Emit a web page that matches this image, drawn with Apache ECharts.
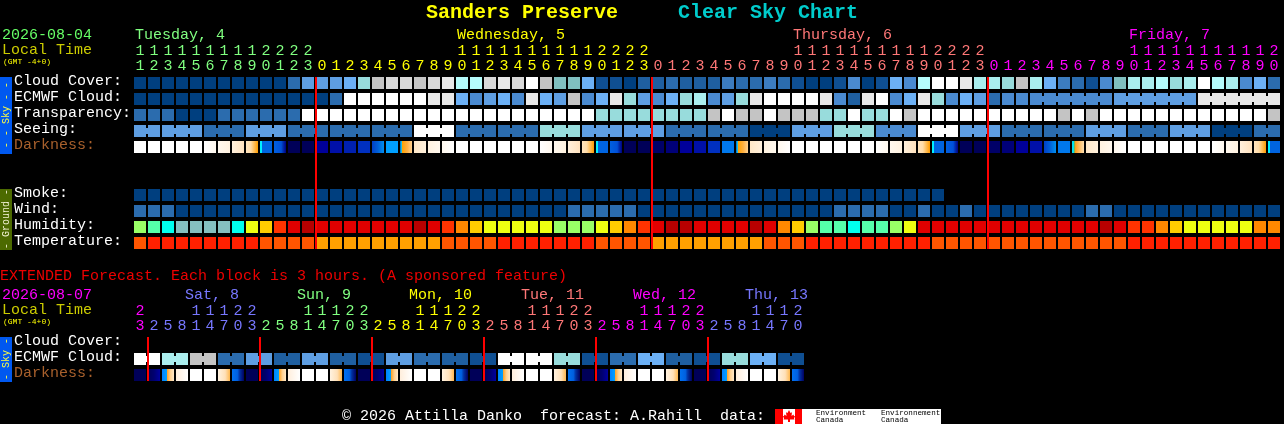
<!DOCTYPE html>
<html>
<head>
<meta charset="utf-8">
<style>html,body{margin:0;padding:0;background:#000;overflow:hidden}#c{width:1284px;height:424px}</style>
<script src="https://cdn.jsdelivr.net/npm/echarts@6/dist/echarts.min.js"></script>
</head>
<body>
<div id="c"></div>
<script>
// ---------- tick labels ----------
const topOnes = ("1234567890123"+"012345678901234567890123"+"012345678901234567890123"+"012345678901234567890").split('');
const topTens = ("1111111112222"+"          11111111112222"+"          11111111112222"+"          11111111112").split('').map(s=>s===' '?'':s);
const topDayStarts = [0,13,37,61];
const topDayNames = ["Tuesday, 4","Wednesday, 5","Thursday, 6","Friday, 7"];
const topDayLabelCols = [0,23,47,71];
const extOnes = ("3"+"25814703"+"25814703"+"25814703"+"25814703"+"25814703"+"2581470").split('');
const extTens = ("2"+"   11122"+"   11122"+"   11122"+"   11122"+"   11122"+"   1112").split('').map(s=>s===' '?'':s);
const extDayStarts = [0,1,9,17,25,33,41];
const extDayNames = ["Sat, 8","Sun, 9","Mon, 10","Tue, 11","Wed, 12","Thu, 13"];
const extDayLabelCols = [4,12,20,28,36,44];
const extLineCols = [1,9,17,25,33,41];
const topLineCols = [13,37,61];
const topRowNames = ["Cloud Cover:","ECMWF Cloud:","Transparency:","Seeing:","Darkness:","","","Smoke:","Wind:","Humidity:","Temperature:"];
const extRowNames = ["Cloud Cover:","ECMWF Cloud:","Darkness:"];

// ---------- series values (palette levels) ----------
const cloudCover = [0,0,0,0,0,0,0,0,0,0,0,3,6,6,6,7,9,12,13,13,12,13,14,11,11,13,14,13,15,12,8,8,7,1,1,0,2,2,3,2,2,2,4,3,3,4,3,1,0,0,1,5,0,1,7,5,11,15,15,14,10,10,9,12,10,7,4,3,1,5,8,10,10,11,9,10,15,11,10,5,7,3];
const ecmwfCloud = [0,0,0,0,0,0,0,0,0,0,0,0,0,0,3,15,15,15,15,15,15,14,14,7,5,6,7,5,14,7,6,12,5,7,14,9,6,5,7,9,10,5,6,9,14,15,15,15,15,14,5,2,14,15,5,7,14,9,5,7,6,3,5,5,5,5,5,5,5,5,6,6,6,6,6,6,14,14,14,14,14,14];
const transparency = [3,3,3,0,0,0,3,3,3,3,3,3,15,15,15,15,15,15,15,15,15,15,15,15,15,15,15,15,15,15,15,15,15,9,9,9,9,9,9,9,9,12,15,12,12,15,12,12,12,9,9,15,9,9,15,12,15,15,15,15,15,15,15,15,15,15,12,15,12,15,15,15,15,15,15,15,15,15,15,15,15,12];
const seeing = [6,6,6,6,6,3,3,3,6,6,6,3,3,3,3,3,3,3,3,3,15,15,15,3,3,3,3,3,3,9,9,9,6,6,6,6,6,6,3,3,3,3,3,3,0,0,0,6,6,6,9,9,9,5,5,5,15,15,15,6,6,6,3,3,3,3,3,3,6,6,6,3,3,3,6,6,6,0,0,0,3,3];
const darkness = [0,0,0,0,0,1,2,3,4,5,6,7,7,10,11,12,13,14,15,16,17,20,21,0,0,0,0,0,0,1,2,3,4,5,6,7,7,8,9,10,11,13,18,16,17,20,21,0,0,0,0,0,0,1,2,3,4,5,6,7,7,8,9,10,11,14,18,19,17,20,21,0,0,0,0,0,0,1,2,3,4,5];
const smoke = [0,0,0,0,0,0,0,0,0,0,0,0,0,0,0,0,0,0,0,0,0,0,0,0,0,0,0,0,0,0,0,0,0,0,0,0,0,0,0,0,0,0,0,0,0,0,0,0,0,0,0,0,0,0,0,0,0,0];
const wind = [3,3,3,0,0,0,0,0,0,0,0,0,0,0,0,0,0,0,0,0,0,0,0,0,0,0,0,0,0,0,0,3,3,3,3,3,0,0,0,0,0,0,0,0,0,0,0,0,0,0,3,3,3,3,0,0,3,0,0,3,0,0,0,0,0,0,0,0,3,3,0,0,0,0,0,0,0,0,0,0,0,0];
const humidity = [3,4,5,6,6,6,6,5,2,1,9,8,7,8,8,8,8,8,8,8,7,8,9,10,1,2,2,2,2,2,3,3,3,2,1,10,9,8,7,7,8,8,8,8,7,8,10,1,3,4,4,5,4,4,3,2,8,8,8,8,8,8,8,8,8,8,8,8,8,7,8,9,9,10,1,2,2,2,2,2,10,10];
const temperature = [1,2,2,2,2,2,2,2,2,1,1,1,1,0,0,0,0,0,0,0,0,0,1,1,1,1,2,2,2,2,2,2,2,1,1,1,1,0,0,0,0,0,0,0,0,1,1,1,2,2,2,2,2,2,2,2,2,1,1,1,1,1,1,1,1,1,1,1,1,1,1,2,2,2,2,2,2,2,2,2,2,2];
const extEcmwf = [15,15,10,10,12,12,3,3,6,6,2,2,6,6,2,2,1,1,6,6,3,3,2,2,1,1,15,15,15,15,9,9,1,1,3,3,7,7,2,2,1,1,9,9,7,7,1,1];
const extDarkness = [7,22,23,24,0,0,25,26,7,22,23,24,0,0,25,26,7,22,23,24,0,0,25,26,7,22,23,24,0,0,25,26,7,22,23,24,0,0,25,26,7,22,23,24,0,0,25,26];

// ---------- palettes ----------
const font = "'Liberation Mono', monospace";
const skyPalette = ['#003F7F','#0F4F92','#1F5FA0','#2B6CAE','#3C7CBF','#4A8AD0','#5E9EE2','#6CB0F5','#80C0C0','#98DCDC','#AAEEEE','#B5FCFC','#C4C4C4','#D8D8D8','#E8E8E8','#FFFFFF'];
const humPalette = ['#85BFBF','#FFCC00','#EEFF11','#99FF66','#55FFAA','#00FFEE','#85BFBF','#B80000','#E00000','#FF3300','#FF8800'];
const tempPalette = ['#FFA000','#FF5500','#FF2000'];
const darkStops = {
 0:[[0,'#FFFFFF'],[1,'#FFFFFF']],
 1:[[0,'#FFFFFF'],[1,'#FFF8EE']],
 2:[[0,'#FFF8EE'],[1,'#FFF2E0']],
 3:[[0,'#FFF0DC'],[1,'#FFE2BE']],
 4:[[0,'#FFE4BE'],[0.4,'#FFDCA8'],[1,'#FF9C00']],
 5:[[0,'#00F0FF'],[0.17,'#00F0FF'],[0.17,'#0064E0'],[1,'#0064E0']],
 6:[[0,'#0060E0'],[0.6,'#0050D8'],[0.75,'#0030B0'],[1,'#000080']],
 7:[[0,'#000058'],[1,'#000058']],
 8:[[0,'#000068'],[1,'#000068']],
 9:[[0,'#000078'],[1,'#000078']],
 10:[[0,'#00009A'],[1,'#00009A']],
 11:[[0,'#0010A8'],[1,'#0010A8']],
 12:[[0,'#0020B0'],[1,'#0020B0']],
 13:[[0,'#0030C0'],[1,'#0030C0']],
 14:[[0,'#0040C8'],[0.5,'#0060D8'],[1,'#0090F0']],
 15:[[0,'#00A0FF'],[1,'#00A0FF']],
 16:[[0,'#0060C0'],[0.12,'#00C0FF'],[0.17,'#FFA000'],[0.6,'#FFB040'],[1,'#FFD090']],
 17:[[0,'#FFE8C8'],[1,'#FFF0DC']],
 18:[[0,'#0078EC'],[1,'#0078EC']],
 19:[[0,'#00E0F0'],[0.15,'#00E0F0'],[0.16,'#40C060'],[0.3,'#FFA020'],[1,'#FFE0B0']],
 20:[[0,'#FFF2E0'],[1,'#FFF8EE']],
 21:[[0,'#FFF8EE'],[1,'#FFFFFF']],
 22:[[0,'#000058'],[0.5,'#000070'],[1,'#0000A0']],
 23:[[0,'#0080FF'],[0.4,'#00A0FF'],[0.42,'#FFA020'],[0.7,'#FFD090'],[1,'#FFE8C8']],
 24:[[0,'#FFEEDC'],[1,'#FFFFFF']],
 25:[[0,'#FFF2E0'],[0.6,'#FFE0B8'],[1,'#FFB850']],
 26:[[0,'#0070F0'],[0.45,'#0060E0'],[0.65,'#0030A0'],[1,'#000060']]
};
const darkFill = l => new echarts.graphic.LinearGradient(0,0,1,0,darkStops[l].map(s=>({offset:s[0],color:s[1]})));
const skyFill = l => skyPalette[l];

// which blocks of a row are joined to the next one
const joinNone = () => false;
const joinSeeing = c => (c + 1) % 3 !== 2;
const joinEcmwf = c => c >= 64 && (c - 64 + 1) % 6 !== 0;
const joinPairs = c => c % 2 === 0;

const blockW = 12, blockH = 12, neckH = 6;
function blockSeries(gridIdx, xIdx, yIdx, row, values, fill, join) {
  return {
    type: 'custom', coordinateSystem: 'cartesian2d', xAxisIndex: xIdx, yAxisIndex: yIdx, clip: false, silent: true, z: 2,
    encode: {x: 0, y: 1},
    data: values.map((v, c) => [c, row, v]),
    renderItem(params, api) {
      const c = api.value(0), p = api.coord([c, api.value(1)]), l = api.value(2);
      const pitch = api.size([1, 0])[0];
      const col = fill(l);
      const kids = [{type:'rect', shape:{x:p[0]-blockW/2, y:p[1]-blockH/2, width:blockW, height:blockH}, style:{fill:col}}];
      if (join(c) && c < values.length - 1 && values[c+1] === l) {
        kids.push({type:'rect', shape:{x:p[0]+blockW/2, y:p[1]-neckH/2, width:pitch-blockW, height:neckH}, style:{fill:col}});
      }
      return {type:'group', children:kids};
    }
  };
}
function lineSeries(xIdx, yIdx, cols, lastRow) {
  return {
    type:'custom', coordinateSystem:'cartesian2d', xAxisIndex:xIdx, yAxisIndex:yIdx, clip:false, silent:true, z:5,
    encode:{x:0},
    data: cols.map(c=>[c,0]),
    renderItem(params, api){
      const a = api.coord([api.value(0),0]), b = api.coord([api.value(0),lastRow]);
      return {type:'rect', shape:{x:a[0]-7, y:a[1]-6, width:2, height:b[1]-a[1]+12}, style:{fill:'#FF0000'}};
    }
  };
}
function dayLabelSeries(xIdx, yIdx, cols, names, colors, shift, py) {
  return {
    type:'custom', coordinateSystem:'cartesian2d', xAxisIndex:xIdx, yAxisIndex:yIdx, clip:false, silent:true, z:5,
    encode:{x:0},
    data: cols.map(c=>[c,0]),
    renderItem(params, api){
      const a = api.coord([api.value(0),0]);
      return {type:'text', style:{x:a[0]+shift, y:py, text:names[params.dataIndex], fill:colors[params.dataIndex], font:"15px "+font, textAlign:'left', textVerticalAlign:'middle'}};
    }
  };
}

const G='#80FF80', Y='#FFFF00', S='#FF7777', M='#FF00FF', B='#7777FF';
const topDayColors=[G,Y,S,M];
const extDayColors=[M,B,G,Y,S,M,B];
function spanColor(starts, colors){ return (v,i)=>{ let k=0; for(let j=0;j<starts.length;j++) if(i>=starts[j]) k=j; return colors[k]; }; }
const topColor=spanColor(topDayStarts,topDayColors), extColor=spanColor(extDayStarts,extDayColors);

const cat = (data,gridIndex,color,offset,margin)=>({
  type:'category', gridIndex, position:'top', data, offset, boundaryGap:true,
  axisLine:{show:false}, axisTick:{show:false}, splitLine:{show:false},
  axisLabel:{show:true, interval:0, margin, color, fontFamily:font, fontSize:15, showMinLabel:true, showMaxLabel:true, hideOverlap:false}
});
const rowAxis=(data,gridIndex)=>({
  type:'category', gridIndex, data, inverse:true, boundaryGap:true,
  axisLine:{show:false}, axisTick:{show:false}, splitLine:{show:false},
  axisLabel:{show:true, interval:0, align:'left', margin:119, fontFamily:font, fontSize:15, verticalAlign:'bottom', lineHeight:4, showMinLabel:true, showMaxLabel:true, hideOverlap:false,
    color:(v)=> v==='Darkness:' ? '#A8602C' : '#FFFFFF'}
});

const txt=(text,x,y,fill,size)=>({type:'text',silent:true,z:10,x,y,style:{text,fill,font:size+'px '+font,textAlign:'left',textVerticalAlign:'middle'}});
const vtxt=(text,cx,cy,fill)=>({type:'text',silent:true,z:10,x:cx,y:cy,rotation:Math.PI/2,style:{text,fill,font:"10px "+font,textAlign:'center',textVerticalAlign:'middle'}});
const box=(x,y,w,h,fill)=>({type:'rect',silent:true,z:1,shape:{x,y,width:w,height:h},style:{fill}});

const option={
  backgroundColor:'#000000', animation:false,
  title:[
    {text:'Sanders Preserve',left:426,top:3,padding:0,textStyle:{color:'#FFFF00',fontFamily:font,fontWeight:'bold',fontSize:20}},
    {text:'Clear Sky Chart',left:678,top:3,padding:0,textStyle:{color:'#00CCCC',fontFamily:font,fontWeight:'bold',fontSize:20}}
  ],
  grid:[
    {left:133,top:75,width:1148,height:176,containLabel:false},
    {left:133,top:335,width:672,height:48,containLabel:false}
  ],
  xAxis:[
    cat(topOnes,0,topColor,0,1),
    cat(topTens,0,topColor,15,1),
    cat(extOnes,1,extColor,0,1),
    cat(extTens,1,extColor,15,1)
  ],
  yAxis:[rowAxis(topRowNames,0),rowAxis(extRowNames,1)],
  series:[
    blockSeries(0,0,0,0,cloudCover,skyFill,joinNone),
    blockSeries(0,0,0,1,ecmwfCloud,skyFill,joinEcmwf),
    blockSeries(0,0,0,2,transparency,skyFill,joinNone),
    blockSeries(0,0,0,3,seeing,skyFill,joinSeeing),
    blockSeries(0,0,0,4,darkness,darkFill,joinNone),
    blockSeries(0,0,0,7,smoke,skyFill,joinNone),
    blockSeries(0,0,0,8,wind,skyFill,joinNone),
    blockSeries(0,0,0,9,humidity,l=>humPalette[l],joinNone),
    blockSeries(0,0,0,10,temperature,l=>tempPalette[l],joinNone),
    blockSeries(1,2,1,1,extEcmwf,skyFill,joinPairs),
    blockSeries(1,2,1,2,extDarkness,darkFill,joinNone),
    lineSeries(0,0,topLineCols,10),
    lineSeries(2,1,extLineCols,2),
    dayLabelSeries(0,0,topDayLabelCols,topDayNames,[G,Y,S,M],-5,35),
    dayLabelSeries(2,1,extDayLabelCols,extDayNames,[B,G,Y,S,M,B],-11,295)
  ],
  graphic:[
    txt('2026-08-04',2,35,'#66FF66',15),
    txt('Local Time',2,50,'#CCCC00',15),
    txt('(GMT -4+0)',3,62,'#FFFF00',8),
    txt('EXTENDED Forecast. Each block is 3 hours. (A sponsored feature)',0,276,'#EE0000',15),
    txt('2026-08-07',2,295,'#FF00FF',15),
    txt('Local Time',2,310,'#CCCC00',15),
    txt('(GMT -4+0)',3,322,'#FFFF00',8),
    box(0,77,12,77,'#0058F0'),
    box(0,189,12,61,'#4C6A00'),
    box(0,337,12,45,'#0058F0'),
    vtxt('- - Sky - -',6,115,'#FFFF40'),
    vtxt('- Ground -',6,219,'#F0F0D0'),
    vtxt('- Sky -',6,359,'#FFFF40'),
    txt('\u00A9 2026 Attilla Danko  forecast: A.Rahill  data:',342,416,'#FFFFFF',15),
    box(775,409,166,15,'#FFFFFF'),
    box(775,409,8,15,'#FF0000'),
    box(795,409,7,15,'#FF0000'),
    {type:'polygon',silent:true,z:3,shape:{points:[[789,410],[790.5,413],[792,412.3],[791.5,416],[793.5,414.5],[794,416],[795,416],[794,418.5],[794.5,419.5],[790,419.5],[790,422],[788,422],[788,419.5],[783.5,419.5],[784,418.5],[783,416],[784,416],[784.5,414.5],[786.5,416],[786,412.3],[787.5,413]]},style:{fill:'#FF0000'}},
    txt('Environment',816,413,'#000000',7.6),
    txt('Canada',816,420,'#000000',7.6),
    txt('Environnement',881,413,'#000000',7.6),
    txt('Canada',881,420,'#000000',7.6)
  ]
};
const chart=echarts.init(document.getElementById('c'),null,{renderer:'canvas',width:1284,height:424});
chart.setOption(option);
</script>
</body>
</html>
